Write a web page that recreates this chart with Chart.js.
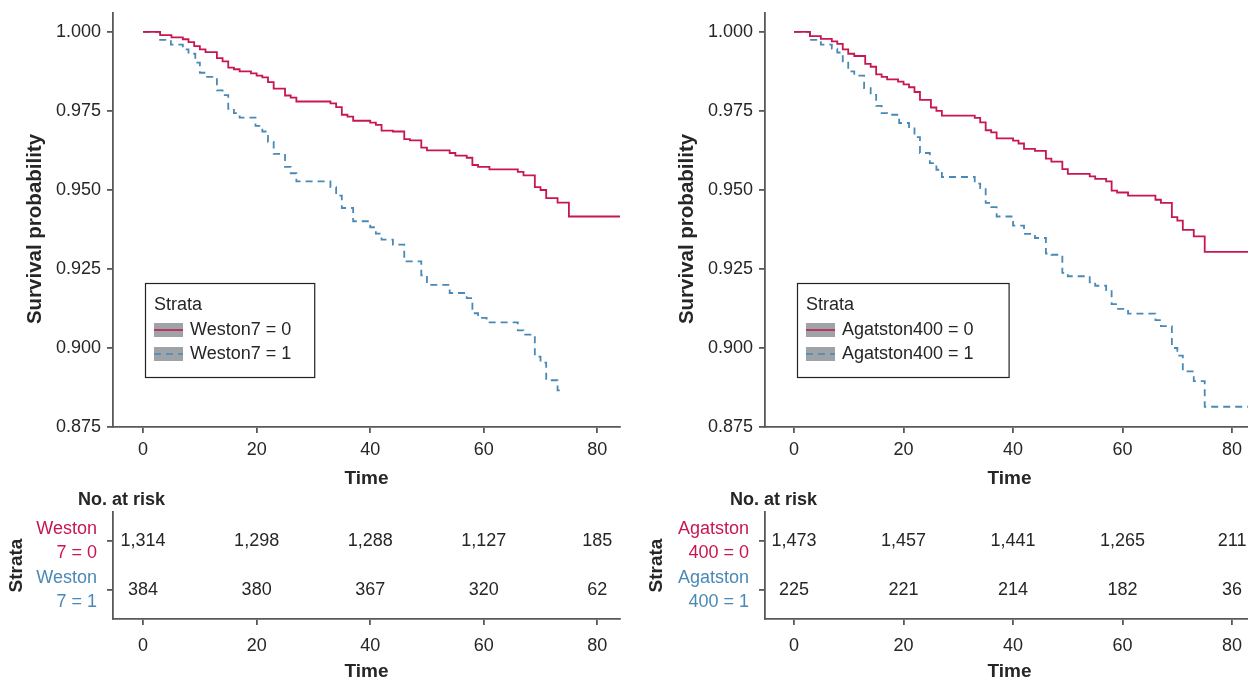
<!DOCTYPE html>
<html><head><meta charset="utf-8">
<script src="https://cdn.jsdelivr.net/npm/chart.js@4.4.1/dist/chart.umd.min.js"></script>
<style>
html,body{margin:0;padding:0;background:#fff;overflow:hidden;width:1248px;height:680px;position:relative;}
.box{position:absolute;}
</style></head><body>
<div class="box" style="left:0;top:0;width:630px;height:490px"><canvas id="kmL"></canvas></div>
<div class="box" style="left:630px;top:0;width:640px;height:490px"><canvas id="kmR"></canvas></div>
<div class="box" style="left:0;top:485px;width:630px;height:200px"><canvas id="rtL"></canvas></div>
<div class="box" style="left:630px;top:485px;width:640px;height:200px"><canvas id="rtR"></canvas></div>
<script>
// ---------- data ----------
const xTicks = [0, 20, 40, 60, 80];
const yTicks = [0.875, 0.900, 0.925, 0.950, 0.975, 1.000];

const westonTimes0 = [0,3,5,7,8,9,10,11,13,14,15,16,17,19,20,21,22,23,25,26,27,33,34,35,36,37,40,41,42,44,46,47,49,50,54,55,57,58,59,61,66,67,69,70,71,73,75,84.5];
const westonSurv0  = [1,0.9990,0.9983,0.9977,0.9968,0.9955,0.9945,0.9936,0.9917,0.9907,0.9887,0.9882,0.9875,0.9869,0.9862,0.9856,0.9841,0.9821,0.9799,0.9792,0.9780,0.9774,0.9762,0.9738,0.9732,0.9719,0.9713,0.9706,0.9688,0.9685,0.9661,0.9657,0.9634,0.9625,0.9617,0.9609,0.9602,0.9579,0.9573,0.9565,0.9557,0.9546,0.9509,0.9500,0.9474,0.9460,0.9416,0.9416];
const westonTimes1 = [0,3,4.9,7,8,9.2,10,11,13,14,15,16,17,19.8,21,22,23,25,26,27,33,34,35,37,40,41,42,44,46,49,50,54,57,58,59,60.5,66,67,69,70,71,73,74];
const westonSurv1  = [1,0.9975,0.9960,0.9945,0.9931,0.9903,0.9871,0.9858,0.9815,0.9800,0.9757,0.9743,0.9729,0.9703,0.9685,0.9652,0.9614,0.9573,0.9553,0.9527,0.9509,0.9482,0.9443,0.9401,0.9382,0.9362,0.9343,0.9327,0.9274,0.9230,0.9200,0.9174,0.9158,0.9110,0.9095,0.9081,0.9056,0.9042,0.8973,0.8954,0.8898,0.8866,0.8866];

const agatTimes0 = [0,2.9,4.9,6.9,7.9,8.9,9.9,11,13,14,15,16,17,19,20,21,22,23,25,26,27,33,34,35,36,37,40,41,42,44,46,47,49,50,54,55,57,58,59,61,66,67,69,70,71,73,75,84.5];
const agatSurv0  = [1,0.9987,0.9978,0.9970,0.9962,0.9945,0.9931,0.9924,0.9899,0.9890,0.9866,0.9858,0.9850,0.9843,0.9834,0.9825,0.9810,0.9785,0.9761,0.9750,0.9735,0.9728,0.9714,0.9689,0.9682,0.9663,0.9656,0.9647,0.9630,0.9624,0.9599,0.9590,0.9566,0.9551,0.9543,0.9535,0.9527,0.9498,0.9492,0.9482,0.9469,0.9459,0.9414,0.9403,0.9374,0.9353,0.9304,0.9304];
const agatTimes1 = [0,2.9,4.9,6.9,7.9,8.9,9.9,11,12.8,14,15,16,17,19.2,21,22,23,24.8,26,27,33,34,35,36,37,40,42,44,46,47,49,50,54,55,57,58,59,61,66,67,69,70,71,73,75,84.5];
const agatSurv1  = [1,0.9975,0.9960,0.9947,0.9935,0.9903,0.9875,0.9862,0.9822,0.9801,0.9766,0.9743,0.9738,0.9712,0.9695,0.9667,0.9617,0.9585,0.9564,0.9541,0.9520,0.9506,0.9459,0.9446,0.9416,0.9387,0.9361,0.9348,0.9299,0.9295,0.9238,0.9227,0.9208,0.9197,0.9183,0.9139,0.9124,0.9109,0.9088,0.9069,0.9000,0.8976,0.8926,0.8895,0.8814,0.8814];

const riskTimes = [0, 20, 40, 60, 80];
const westonRisk0 = [1314, 1298, 1288, 1127, 185];
const westonRisk1 = [384, 380, 367, 320, 62];
const agatRisk0 = [1473, 1457, 1441, 1265, 211];
const agatRisk1 = [225, 221, 214, 182, 36];

const westonLabels = ['Weston7 = 0', 'Weston7 = 1'];
const agatLabels = ['Agatston400 = 0', 'Agatston400 = 1'];
const westonRowLabels = [['Weston', '7 = 0'], ['Weston', '7 = 1']];
const agatRowLabels = [['Agatston', '400 = 0'], ['Agatston', '400 = 1']];

// ---------- style ----------
const FONT = '"Liberation Sans", Arial, Helvetica, sans-serif';
const RED = '#c8174f', BLUE = '#4a89b5', AX = '#595959', TXT = '#262626';
Chart.defaults.font.family = FONT;
Chart.defaults.animation = false;

const pts = (t, s) => t.map((v, i) => ({x: v, y: s[i]}));

function makeLegend(rightPad) {
  return {
    id: 'legendBox',
    afterDatasetsDraw(chart) {
      const ctx = chart.ctx, ca = chart.chartArea;
      const ds = chart.data.datasets;
      ctx.save();
      ctx.font = '18px ' + FONT;
      const tw = Math.max(ctx.measureText('Strata').width, ...ds.map(d => ctx.measureText(d.label).width));
      const x0 = ca.left + 32, y0 = 283, w = 9 + 29 + 7 + tw + rightPad, h = 94;
      ctx.fillStyle = '#fff';
      ctx.fillRect(x0, y0, w, h);
      ctx.strokeStyle = '#222'; ctx.lineWidth = 1.2;
      ctx.strokeRect(x0 + 0.5, y0 + 0.5, w, h);
      ctx.fillStyle = TXT; ctx.textBaseline = 'middle'; ctx.textAlign = 'left';
      ctx.fillText('Strata', x0 + 9, y0 + 22);
      ds.forEach((d, i) => {
        const cy = y0 + 47 + i * 24;
        ctx.fillStyle = '#9ea3a8';
        ctx.fillRect(x0 + 9, cy - 7, 29, 14);
        ctx.strokeStyle = d.borderColor; ctx.lineWidth = 1.6;
        ctx.setLineDash(d.borderDash || []);
        ctx.beginPath(); ctx.moveTo(x0 + 9, cy); ctx.lineTo(x0 + 38, cy); ctx.stroke();
        ctx.setLineDash([]);
        ctx.fillStyle = TXT;
        ctx.fillText(d.label, x0 + 45, cy);
      });
      ctx.restore();
    }
  };
}

// y-axis title drawn slightly below the panel centre, as in the reference
const yTitle = {
  id: 'yTitle',
  afterDraw(chart, args, opts) {
    const ctx = chart.ctx, ca = chart.chartArea;
    ctx.save();
    ctx.translate(opts.x, (ca.top + ca.bottom) / 2 + opts.shift);
    ctx.rotate(-Math.PI / 2);
    ctx.font = 'bold 20.5px ' + FONT; ctx.fillStyle = TXT;
    ctx.textAlign = 'center'; ctx.textBaseline = 'middle';
    ctx.fillText(opts.text, 0, 0);
    ctx.restore();
  }
};

function axisCommon() {
  return {
    border: {display: true, color: AX, width: 1.8},
    grid: {display: true, drawOnChartArea: false, drawTicks: true, tickLength: 6, color: AX, lineWidth: 1.8}
  };
}

function kmChart(id, labels, t0, s0, t1, s1, yWidth, titleX, padRight, legendPad) {
  new Chart(document.getElementById(id), {
    type: 'line',
    data: {datasets: [
      {label: labels[0], data: pts(t0, s0), borderColor: RED, borderWidth: 1.8, stepped: 'before', pointRadius: 0, fill: false},
      {label: labels[1], data: pts(t1, s1), borderColor: BLUE, borderWidth: 1.8, borderDash: [7, 5], stepped: 'before', pointRadius: 0, fill: false}
    ]},
    options: {
      responsive: true, maintainAspectRatio: false,
      layout: {padding: {top: 13, right: padRight, left: 0, bottom: 0}},
      plugins: {legend: {display: false}, tooltip: {enabled: false},
                yTitle: {text: 'Survival probability', x: titleX, shift: 9}},
      scales: {
        x: Object.assign(axisCommon(), {
          type: 'linear', min: -5.3, max: 84,
          afterBuildTicks: s => { s.ticks = xTicks.map(v => ({value: v})); },
          afterFit: s => { s.height = 63; s.paddingLeft = 0; s.paddingRight = 0; },
          ticks: {font: {size: 18}, color: TXT, padding: 6, maxRotation: 0, autoSkip: false, callback: v => String(v)},
          title: {display: true, text: 'Time', color: TXT, font: {size: 19, weight: 'bold'}, padding: {top: 0, bottom: 0}}
        }),
        y: Object.assign(axisCommon(), {
          type: 'linear', min: 0.875, max: 1.006,
          afterBuildTicks: s => { s.ticks = yTicks.map(v => ({value: v})); },
          afterFit: s => { s.width = yWidth; s.paddingTop = 0; s.paddingBottom = 0; },
          ticks: {font: {size: 18}, color: TXT, padding: 6, callback: v => v.toFixed(3)},
          title: {display: false}
        })
      }
    },
    plugins: [makeLegend(legendPad), yTitle]
  });
}

const riskText = {
  id: 'riskText',
  afterDatasetsDraw(chart) {
    const ctx = chart.ctx, ca = chart.chartArea;
    ctx.save();
    ctx.font = '18px ' + FONT; ctx.fillStyle = TXT;
    ctx.textAlign = 'center'; ctx.textBaseline = 'middle';
    chart.data.datasets.forEach((d, di) => {
      chart.getDatasetMeta(di).data.forEach((el, i) => {
        ctx.fillText(d.counts[i].toLocaleString('en-US'), el.x, el.y);
      });
    });
    ctx.font = 'bold 18px ' + FONT; ctx.textAlign = 'left';
    ctx.fillText('No. at risk', ca.left - 35, ca.top - 12);
    ctx.restore();
  }
};

function riskChart(id, rowLabels, r0, r1, yWidth, yTitlePad, padRight) {
  new Chart(document.getElementById(id), {
    type: 'scatter',
    data: {datasets: [
      {counts: r0, data: riskTimes.map(t => ({x: t, y: 1})), pointRadius: 0},
      {counts: r1, data: riskTimes.map(t => ({x: t, y: 0})), pointRadius: 0}
    ]},
    options: {
      responsive: true, maintainAspectRatio: false,
      layout: {padding: {top: 27, right: padRight, left: 0, bottom: 0}},
      plugins: {legend: {display: false}, tooltip: {enabled: false}},
      scales: {
        x: Object.assign(axisCommon(), {
          type: 'linear', min: -5.3, max: 84,
          afterBuildTicks: s => { s.ticks = xTicks.map(v => ({value: v})); },
          afterFit: s => { s.height = 66; s.paddingLeft = 0; s.paddingRight = 0; },
          ticks: {font: {size: 18}, color: TXT, padding: 10, maxRotation: 0, autoSkip: false, callback: v => String(v)},
          title: {display: true, text: 'Time', color: TXT, font: {size: 19, weight: 'bold'}, padding: {top: 0, bottom: 2}}
        }),
        y: Object.assign(axisCommon(), {
          type: 'linear', min: -0.592, max: 1.592,
          afterBuildTicks: s => { s.ticks = [{value: 1}, {value: 0}]; },
          afterFit: s => { s.width = yWidth; s.paddingTop = 0; s.paddingBottom = 0; },
          ticks: {font: {size: 18, lineHeight: 1.33}, padding: 10,
                  color: c => (c.tick && c.tick.value === 1) ? RED : BLUE,
                  callback: v => v === 1 ? rowLabels[0] : rowLabels[1]},
          title: {display: true, text: 'Strata', color: TXT, font: {size: 19, weight: 'bold'}, padding: {top: yTitlePad, bottom: 0}}
        })
      }
    },
    plugins: [riskText]
  });
}

kmChart('kmL', westonLabels, westonTimes0, westonSurv0, westonTimes1, westonSurv1, 113, 35, 10, 23);
kmChart('kmR', agatLabels, agatTimes0, agatSurv0, agatTimes1, agatSurv1, 135, 57, 16, 35);
riskChart('rtL', westonRowLabels, westonRisk0, westonRisk1, 113, 5.6, 10);
riskChart('rtR', agatRowLabels, agatRisk0, agatRisk1, 135, 15.6, 16);
</script>
</body></html>
